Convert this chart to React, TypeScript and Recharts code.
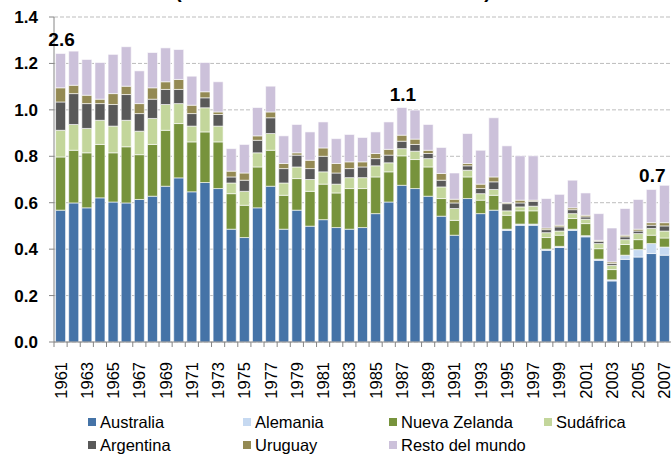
import React from 'react';
import { BarChart, Bar, XAxis, YAxis, CartesianGrid, LabelList } from 'recharts';

const years = [
  1961, 1962, 1963, 1964, 1965, 1966, 1967, 1968, 1969, 1970,
  1971, 1972, 1973, 1974, 1975, 1976, 1977, 1978, 1979, 1980,
  1981, 1982, 1983, 1984, 1985, 1986, 1987, 1988, 1989, 1990,
  1991, 1992, 1993, 1994, 1995, 1996, 1997, 1998, 1999, 2000,
  2001, 2002, 2003, 2004, 2005, 2006, 2007,
];

const australia = [
  0.568, 0.599, 0.578, 0.621, 0.603, 0.599, 0.614, 0.628, 0.671, 0.707,
  0.647, 0.687, 0.661, 0.486, 0.450, 0.578, 0.671, 0.486, 0.568, 0.499,
  0.527, 0.493, 0.486, 0.493, 0.553, 0.603, 0.675, 0.661, 0.628, 0.542,
  0.460, 0.618, 0.553, 0.568, 0.481, 0.503, 0.503, 0.395, 0.407, 0.481,
  0.453, 0.352, 0.263, 0.356, 0.366, 0.381, 0.374,
];

const alemania = [
  0, 0, 0, 0, 0, 0, 0, 0, 0, 0,
  0, 0, 0, 0, 0, 0, 0, 0, 0, 0,
  0, 0, 0, 0, 0, 0, 0, 0, 0, 0,
  0, 0, 0, 0, 0.005, 0.005, 0.005, 0.005, 0.005, 0.005,
  0.005, 0.005, 0.005, 0.018, 0.032, 0.043, 0.035,
];

const nuevaZelanda = [
  0.229, 0.227, 0.237, 0.230, 0.212, 0.242, 0.193, 0.223, 0.241, 0.234,
  0.215, 0.218, 0.201, 0.153, 0.139, 0.176, 0.155, 0.146, 0.136, 0.150,
  0.153, 0.149, 0.175, 0.168, 0.158, 0.130, 0.127, 0.125, 0.126, 0.076,
  0.064, 0.093, 0.058, 0.064, 0.060, 0.057, 0.057, 0.050, 0.048, 0.046,
  0.052, 0.045, 0.044, 0.046, 0.043, 0.036, 0.039,
];

const sudafrica = [
  0.115, 0.111, 0.105, 0.104, 0.115, 0.114, 0.101, 0.112, 0.111, 0.086,
  0.068, 0.104, 0.068, 0.046, 0.060, 0.061, 0.072, 0.053, 0.050, 0.051,
  0.053, 0.038, 0.047, 0.047, 0.048, 0.039, 0.031, 0.036, 0.036, 0.050,
  0.051, 0.029, 0.028, 0.025, 0.019, 0.017, 0.020, 0.021, 0.018, 0.021,
  0.019, 0.022, 0.018, 0.021, 0.026, 0.029, 0.030,
];

const argentina = [
  0.122, 0.133, 0.107, 0.072, 0.093, 0.111, 0.076, 0.083, 0.065, 0.061,
  0.054, 0.043, 0.050, 0.026, 0.048, 0.054, 0.068, 0.062, 0.051, 0.047,
  0.067, 0.048, 0.039, 0.046, 0.031, 0.033, 0.032, 0.029, 0.022, 0.029,
  0.024, 0.019, 0.022, 0.033, 0.031, 0.017, 0.021, 0.013, 0.018, 0.017,
  0.010, 0.010, 0.008, 0.012, 0.011, 0.014, 0.022,
];

const uruguay = [
  0.061, 0.036, 0.036, 0.019, 0.047, 0.036, 0.043, 0.049, 0.033, 0.043,
  0.036, 0.026, 0.011, 0.025, 0.031, 0.019, 0.025, 0.022, 0.010, 0.036,
  0.036, 0.041, 0.029, 0.022, 0.022, 0.025, 0.026, 0.023, 0.014, 0.029,
  0.016, 0.010, 0.019, 0.021, 0.005, 0.012, 0.005, 0.007, 0.007, 0.008,
  0.007, 0.004, 0.007, 0.007, 0.008, 0.011, 0.014,
];

const restoDelMundo = [
  0.148, 0.147, 0.154, 0.158, 0.169, 0.170, 0.141, 0.152, 0.146, 0.129,
  0.125, 0.126, 0.130, 0.097, 0.123, 0.122, 0.111, 0.119, 0.122, 0.122,
  0.112, 0.107, 0.118, 0.105, 0.093, 0.118, 0.119, 0.125, 0.111, 0.112,
  0.113, 0.129, 0.146, 0.255, 0.244, 0.191, 0.191, 0.127, 0.133, 0.119,
  0.096, 0.115, 0.146, 0.115, 0.128, 0.143, 0.161,
];

const annotationYears = [1961, 1987, 2006];
const annotationLabels = ['2.6', '1.1', '0.7'];

const yTicks = [0, 0.2, 0.4, 0.6, 0.8, 1.0, 1.2, 1.4];

const seriesNames = ['Australia', 'Alemania', 'Nueva Zelanda', 'Sudáfrica', 'Argentina', 'Uruguay', 'Resto del mundo'];
const seriesKeys = ['australia', 'alemania', 'nuevaZelanda', 'sudafrica', 'argentina', 'uruguay', 'resto'];
const seriesColors = ['#4573A7', '#C6D9F1', '#77933C', '#C3D69B', '#595959', '#948A54', '#CCC1DA'];
const seriesValues = [australia, alemania, nuevaZelanda, sudafrica, argentina, uruguay, restoDelMundo];

const data = years.map((year, i) => {
  const row: Record<string, any> = { year };
  seriesKeys.forEach((k, s) => {
    row[k] = seriesValues[s][i];
  });
  const a = annotationYears.indexOf(year);
  row.annot = a >= 0 ? annotationLabels[a] : null;
  return row;
});

const FONT = '"Liberation Sans", Arial, Helvetica, sans-serif';
const W = 671;
const H = 454;
const Y_AXIS_W = 54;
const PLOT_W = W - Y_AXIS_W;

// legend layout (order: row 1 then row 2)
const legendSlots = [
  { left: 88, top: 414 },
  { left: 243, top: 414 },
  { left: 389, top: 414 },
  { left: 544, top: 414 },
  { left: 88, top: 437 },
  { left: 243, top: 437 },
  { left: 389, top: 437 },
];
const legendOrder = [0, 1, 2, 3, 4, 5, 6];

const XTick = (props: any) => {
  const { x, y, payload, index } = props;
  const band = PLOT_W / years.length;
  const bx = x - band / 2;
  return (
    <g>
      <line x1={bx} x2={bx} y1={y} y2={y + 5} stroke="#868686" strokeWidth={1} />
      {index % 2 === 0 && (
        <text
          transform={`translate(${x},${y + 20}) rotate(-90)`}
          textAnchor="end"
          dy="0.36em"
          fontSize={16.5}
          fill="#000"
          fontFamily={FONT}
        >
          {payload.value}
        </text>
      )}
    </g>
  );
};

const AnnotLabel = (props: any) => {
  const { x, y, width, value } = props;
  if (!value) return null;
  return (
    <text
      x={x + width / 2 + 1}
      y={y - 7}
      textAnchor="middle"
      fontSize={19}
      fontWeight="bold"
      fill="#000"
      fontFamily={FONT}
    >
      {value}
    </text>
  );
};

export default function App() {
  return (
    <div style={{ position: 'absolute', left: 0, top: 0, width: W, height: H, overflow: 'hidden', background: '#fff', fontFamily: FONT }}>
      <div
        style={{
          position: 'absolute',
          left: 175,
          top: -20,
          width: 316,
          fontSize: 20,
          fontWeight: 'bold',
          textAlign: 'justify',
          textAlignLast: 'justify',
          whiteSpace: 'nowrap',
          color: '#000',
        }}
      >
        (millones de toneladas)
      </div>
      <BarChart
        width={W}
        height={H}
        data={data}
        margin={{ top: 17, right: 0, left: 0, bottom: 0 }}
        barCategoryGap="12%"
      >
        <CartesianGrid vertical={false} stroke="#bdbdbd" strokeDasharray="4 2" />
        <XAxis
          dataKey="year"
          interval={0}
          height={112}
          tickSize={0}
          tickMargin={0}
          axisLine={{ stroke: '#868686' }}
          tickLine={false}
          tick={<XTick />}
        />
        <YAxis
          width={Y_AXIS_W}
          domain={[0, 1.4]}
          ticks={yTicks}
          tickFormatter={(v: number) => v.toFixed(1)}
          axisLine={{ stroke: '#868686' }}
          tickLine={{ stroke: '#868686' }}
          tickSize={5}
          tickMargin={11}
          tick={{ fontSize: 17, fontWeight: 'bold', fill: '#000', fontFamily: FONT }}
        />
        {seriesKeys.map((k, s) => (
          <Bar
            key={k}
            dataKey={k}
            name={seriesNames[s]}
            stackId="a"
            fill={seriesColors[s]}
            stroke="#ffffff"
            strokeWidth={0.6}
            isAnimationActive={false}
          >
            {s === seriesKeys.length - 1 && (
              <LabelList dataKey="annot" content={<AnnotLabel />} />
            )}
          </Bar>
        ))}
      </BarChart>
      {legendOrder.map((s, i) => (
        <div
          key={seriesKeys[s]}
          style={{
            position: 'absolute',
            left: legendSlots[i].left,
            top: legendSlots[i].top,
            height: 16,
            display: 'flex',
            alignItems: 'center',
            fontSize: 16.5,
            color: '#000',
            whiteSpace: 'nowrap',
          }}
        >
          <span style={{ display: 'inline-block', width: 8, height: 8, background: seriesColors[s], marginRight: 4 }} />
          <span>{seriesNames[s]}</span>
        </div>
      ))}
    </div>
  );
}
